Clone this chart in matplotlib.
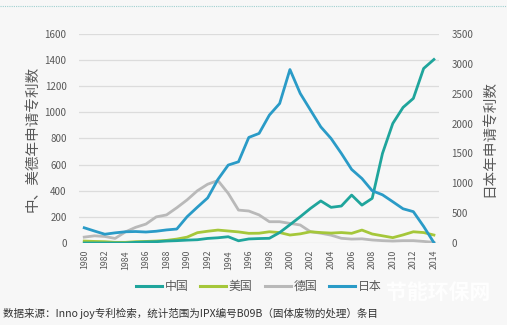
import matplotlib.pyplot as plt
from matplotlib.lines import Line2D

plt.rcParams['font.family'] = ['Noto Sans CJK SC', 'DejaVu Sans']

years = list(range(1980, 2015))

# 中、美、德 -> 左轴；日本 -> 右轴
china = [0, 0, 0, 0, 0, 5, 8, 10, 15, 18, 22, 25, 35, 40, 48, 17, 31, 34, 36, 80,
         140, 201, 265, 322, 273, 283, 367, 290, 342, 686, 915, 1038, 1107, 1336, 1405]
usa = [15, 12, 10, 5, 5, 10, 12, 15, 20, 30, 45, 79, 90, 99, 92, 85, 74, 75, 86, 80,
       61, 70, 86, 80, 76, 80, 74, 99, 69, 55, 41, 62, 86, 80, 61]
germany = [45, 55, 50, 35, 85, 120, 145, 200, 215, 270, 330, 400, 450, 478, 380, 252,
           245, 215, 163, 163, 150, 138, 86, 75, 60, 36, 30, 32, 23, 18, 15, 18, 18, 12, 5]
japan = [255, 200, 147, 170, 188, 192, 184, 197, 219, 234, 440, 600, 755, 1065, 1305,
         1360, 1768, 1835, 2142, 2336, 2905, 2505, 2225, 1945, 1750, 1500, 1232, 1080,
         875, 807, 691, 573, 525, 278, 5]

labels = ['中国', '美国', '德国', '日本']
colors = ['#1fa59c', '#a5c73a', '#b9b9b9', '#2a9bc7']

grey = '#595959'

fig = plt.figure(figsize=(5.07, 3.25), dpi=100, facecolor='#f7f7f7')
ax = fig.add_axes([0.156, 0.2523, 0.71, 0.6431])
ax.set_facecolor('none')
ax2 = ax.twinx()

lw = 2.0
ax.plot(years, germany, color=colors[2], lw=lw, zorder=3)
ax.plot(years, usa, color=colors[1], lw=lw, zorder=3)
ax.plot(years, china, color=colors[0], lw=lw, zorder=4)
ax2.plot(years, japan, color=colors[3], lw=lw, zorder=3)

ax.set_xlim(1979.5, 2014.5)
ax.set_ylim(0, 1600)
ax2.set_ylim(0, 3500)
ax.set_yticks(range(0, 1601, 200))
ax2.set_yticks(range(0, 3501, 500))
ax.set_xticks(years[::2])
ax.set_xticklabels([str(y) for y in years[::2]], rotation=90)

ax.grid(axis='y', color='#dcdcdc', lw=0.9)
ax.set_axisbelow(True)
for a in (ax, ax2):
    for s in a.spines.values():
        s.set_visible(False)
ax.tick_params(axis='both', length=0, labelsize=7, labelcolor=grey)
ax.tick_params(axis='y', pad=9)
ax.tick_params(axis='x', pad=5, labelsize=6.3)
ax2.tick_params(axis='y', length=0, labelsize=7, labelcolor=grey, pad=9)

ax.set_ylabel('中、美德年申请专利数', fontsize=10.5, color=grey, labelpad=4)
ax2.set_ylabel('日本年申请专利数', fontsize=10.5, color=grey, labelpad=6)

handles = [Line2D([], [], color=c, lw=2.2) for c in colors]
fig.legend(handles, labels, loc='center', bbox_to_anchor=(0.51, 0.118), ncol=4,
           frameon=False, fontsize=8.6, handlelength=2.2, handletextpad=0.2,
           columnspacing=1.0, labelcolor=grey)

# 水印
fig.text(0.865, 0.1, '节能环保网', fontsize=15, fontweight='bold', color='white',
         ha='center', va='center', alpha=0.9, zorder=0)

fig.text(0.006, 0.037, '数据来源：Inno joy专利检索，统计范围为IPX编号B09B（固体废物的处理）条目',
         fontsize=7.6, style='italic', color='#333333', ha='left', va='center')

# 顶部虚线
fig.add_artist(Line2D([0.0, 1.0], [0.982, 0.982], transform=fig.transFigure,
                      color='#9fd0d0', lw=0.8, ls=(0, (1, 1))))

fig.savefig('out.png', dpi=100, facecolor=fig.get_facecolor())
